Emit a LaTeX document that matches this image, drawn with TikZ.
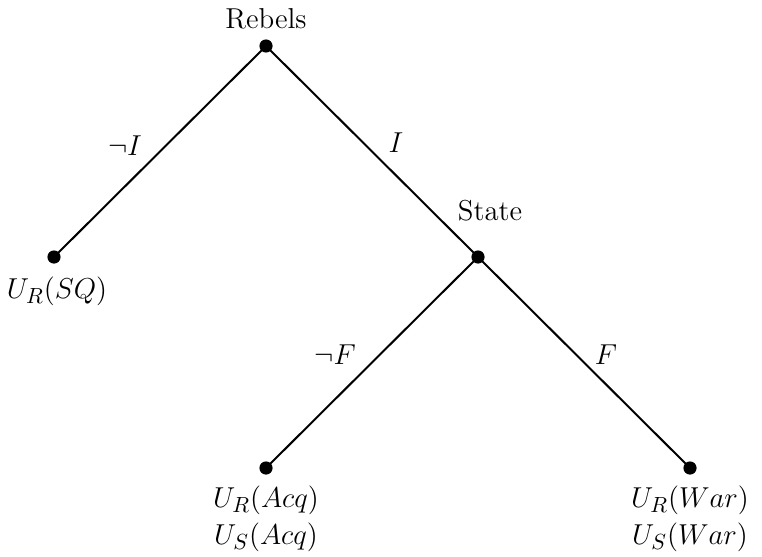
\documentclass[tikz,border=0pt]{standalone}
\begin{document}
\begin{tikzpicture}[x=0.5pt,y=-0.5pt,
  dotnode/.style={circle,fill=black,inner sep=0pt,minimum size=6.6pt},
  branch/.style={line width=1pt},
  txt/.style={font=\fontsize{14.4}{17}\selectfont,inner sep=0pt},
  mtxt/.style={font=\fontsize{15.6}{18}\selectfont,inner sep=0pt}]
\useasboundingbox (0,0) rectangle (762,557);
\node[dotnode] (reb) at (266,46) {};
\node[dotnode] (sq) at (54,257) {};
\node[dotnode] (st) at (478,257) {};
\node[dotnode] (acq) at (266,468) {};
\node[dotnode] (war) at (690,468) {};
\draw[branch] (reb.center) -- (sq.center);
\draw[branch] (reb.center) -- (st.center);
\draw[branch] (st.center) -- (acq.center);
\draw[branch] (st.center) -- (war.center);
\node[txt] (lreb) at (266,19) {Rebels};
\node[txt] (lst) at (490,211) {State};
\node[mtxt] (lni) at (125,146) {$\neg I$};
\node[mtxt] (li) at (396,143) {$I$};
\node[mtxt] (lnf) at (335,355) {$\neg F$};
\node[mtxt] (lf) at (606,355) {$F$};
\node[mtxt] (lsq) at (57,291) {$U_R(SQ)$};
\node[mtxt] (lacq1) at (266,500) {$U_R(Acq)$};
\node[mtxt] (lacq2) at (266,537) {$U_S(Acq)$};
\node[mtxt] (lwar1) at (690,500) {$U_R(War)$};
\node[mtxt] (lwar2) at (690,537) {$U_S(War)$};
\end{tikzpicture}
\end{document}
